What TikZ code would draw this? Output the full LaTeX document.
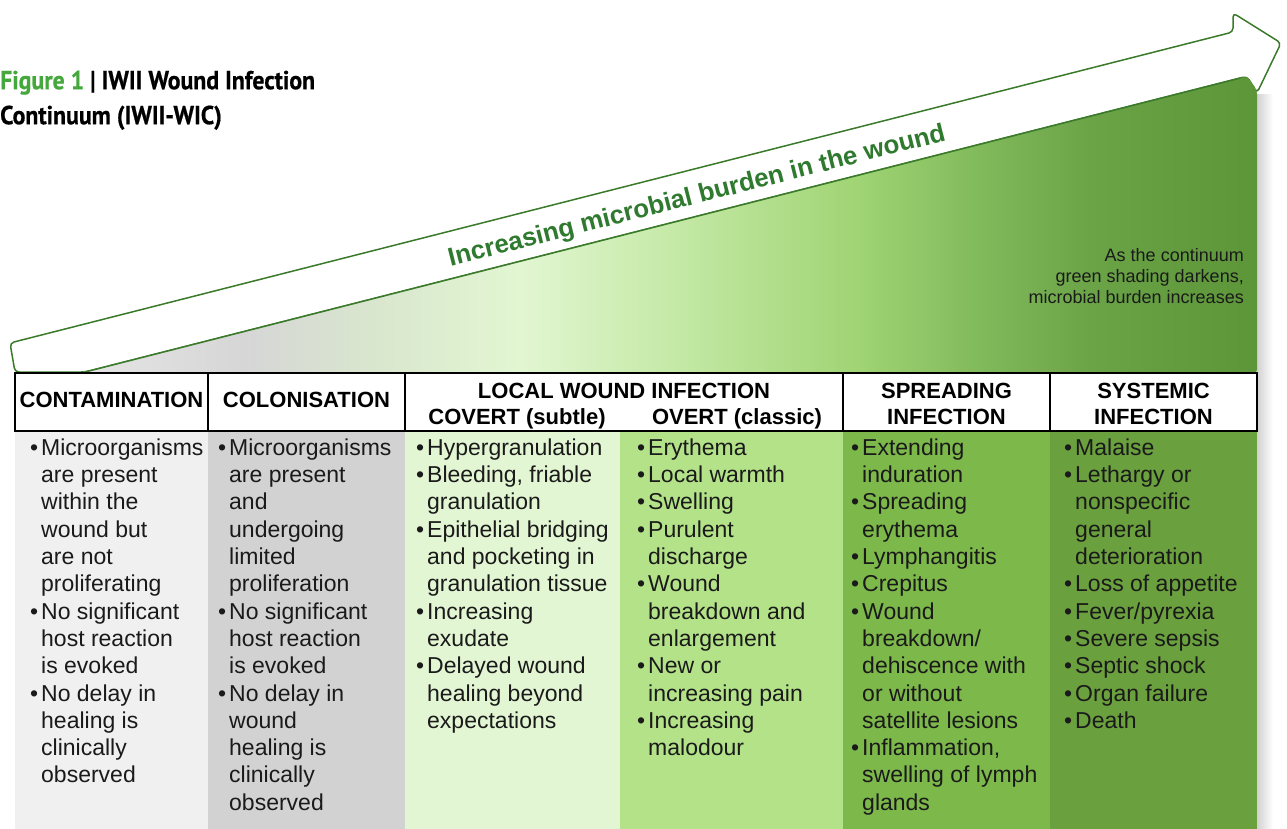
\documentclass[tikz,border=0pt]{standalone}
\usepackage{fontspec}
\setmainfont{Liberation Sans}
\newfontfamily\titlefont[FakeStretch=0.915,BoldFeatures={FakeBold=0.6}]{PT Sans}
\usetikzlibrary{shadings,calc}
\definecolor{figgreen}{HTML}{44A83C}
\definecolor{arrgreen}{HTML}{3A7A2A}
\definecolor{txtgreen}{HTML}{2F7A2F}
\definecolor{txt}{HTML}{1A1A1A}
\definecolor{cA}{HTML}{F0F0F0}
\definecolor{cB}{HTML}{D2D2D2}
\definecolor{cC}{HTML}{E3F6D3}
\definecolor{cD}{HTML}{B3E289}
\definecolor{cE}{HTML}{7DB84A}
\definecolor{cF}{HTML}{6AA03D}
\definecolor{g0}{HTML}{EBEBEB}
\definecolor{g1}{HTML}{D6D6D6}
\definecolor{g2}{HTML}{D9E6CE}
\definecolor{g3}{HTML}{E2F6D2}
\definecolor{g4}{HTML}{C6EAA8}
\definecolor{g5}{HTML}{A0D474}
\definecolor{g6}{HTML}{80B95A}
\definecolor{g7}{HTML}{6BA347}
\definecolor{g8}{HTML}{5C9638}
\pgfdeclarehorizontalshading{burden}{100bp}{color(0bp)=(g0); color(25bp)=(g0); color(34.2bp)=(g1); color(39.3bp)=(g2); color(45.3bp)=(g3); color(51.2bp)=(g4); color(58.9bp)=(g5); color(64bp)=(g6); color(68.3bp)=(g7); color(75bp)=(g8); color(100bp)=(g8)}
\newcommand{\bu}{\makebox[11pt][l]{•}}
\newcommand{\ii}{\hspace*{11pt}}
\begin{document}
\begin{tikzpicture}[x=1pt,y=-1pt,
  bodytext/.style={anchor=north west,inner sep=0pt,align=left,text=txt,
    font=\fontsize{23}{27.3}\selectfont},
  headtext/.style={anchor=base,inner sep=0pt,text=black,font=\fontsize{22}{26}\selectfont\bfseries},
  hline/.style={draw=black,line width=1.6pt}]
\useasboundingbox (0,0) rectangle (1287,829);
% title
\node[anchor=north west,inner sep=0pt,align=left,font=\titlefont\fontsize{26}{35}\selectfont\bfseries] (title) at (0,64.5)
  {\strut{\color{figgreen}Figure 1} | IWII Wound Infection\\Continuum (IWII-WIC)};
% shadow
\shade[left color=black!18,right color=white] (1257,95) rectangle (1273,829);
% body column fills
\fill[cA] (15,431) rectangle (208,829);
\fill[cB] (208,431) rectangle (405,829);
\fill[cC] (405,431) rectangle (620,829);
\fill[cD] (620,431) rectangle (843,829);
\fill[cE] (843,431) rectangle (1050,829);
\fill[cF] (1050,431) rectangle (1257,829);
% arrow
\coordinate (tailtop) at (10,343);
\coordinate (tailbot) at (15,372);
\coordinate (lowstart) at (85,372);
\coordinate (upend) at (1233,32);
\coordinate (barbup) at (1233,13);
\coordinate (tip) at (1281,43);
\coordinate (barbdn) at (1257,93);
\coordinate (lowend) at (1247,76.3);
\coordinate (lowmid) at (1240,78.1);
\filldraw[fill=white,draw=arrgreen,line width=1.5pt,rounded corners=4pt,line join=round]
  (tailbot) -- (tailtop) -- (upend) -- (barbup) -- (tip) -- (barbdn) -- (lowend) -- (lowstart) -- cycle;
\shade[shading=burden,rounded corners=4pt] (lowstart) -- (lowend) -- (1257,90) -- (1257,374) -- (15,374) -- cycle;
\draw[arrgreen,line width=1.5pt] (lowstart) -- (lowmid);
\node[rotate=14.28,inner sep=0pt,text=txtgreen,font=\fontsize{25.8}{30}\selectfont\bfseries] (arrowlabel) at (697,197) {Increasing microbial burden in the wound};
\node[anchor=north east,inner sep=0pt,align=right,text=txt,font=\fontsize{18}{21}\selectfont] (note) at (1244,247)
  {\strut As the continuum\\green shading darkens,\\microbial burden increases};
% header
\filldraw[fill=white,hline] (15,373) rectangle (1257,431);
\draw[hline] (208,373) -- (208,431);
\draw[hline] (405,373) -- (405,431);
\draw[hline] (843,373) -- (843,431);
\draw[hline] (1050,373) -- (1050,431);
\node[headtext] (h1) at (111.5,407) {CONTAMINATION};
\node[headtext] (h2) at (306.5,407) {COLONISATION};
\node[headtext] (h3) at (624,398) {LOCAL WOUND INFECTION};
\node[headtext] (h3a) at (517,424) {COVERT (subtle)};
\node[headtext] (h3b) at (737,424) {OVERT (classic)};
\node[headtext] (h4a) at (946.5,398) {SPREADING};
\node[headtext] (h4b) at (946.5,424) {INFECTION};
\node[headtext] (h5a) at (1153.5,398) {SYSTEMIC};
\node[headtext] (h5b) at (1153.5,424) {INFECTION};
% body texts
\node[bodytext] (b1) at (30,436) {\strut\bu Microorganisms\\\ii are present\\\ii within the\\\ii wound but\\\ii are not\\\ii proliferating\\\bu No significant\\\ii host reaction\\\ii is evoked\\\bu No delay in\\\ii healing is\\\ii clinically\\\ii observed};
\node[bodytext] (b2) at (218,436) {\strut\bu Microorganisms\\\ii are present\\\ii and\\\ii undergoing\\\ii limited\\\ii proliferation\\\bu No significant\\\ii host reaction\\\ii is evoked\\\bu No delay in\\\ii wound\\\ii healing is\\\ii clinically\\\ii observed};
\node[bodytext] (b3) at (416,436) {\strut\bu Hypergranulation\\\bu Bleeding, friable\\\ii granulation\\\bu Epithelial bridging\\\ii and pocketing in\\\ii granulation tissue\\\bu Increasing\\\ii exudate\\\bu Delayed wound\\\ii healing beyond\\\ii expectations};
\node[bodytext] (b4) at (637,436) {\strut\bu Erythema\\\bu Local warmth\\\bu Swelling\\\bu Purulent\\\ii discharge\\\bu Wound\\\ii breakdown and\\\ii enlargement\\\bu New or\\\ii increasing pain\\\bu Increasing\\\ii malodour};
\node[bodytext] (b5) at (851,436) {\strut\bu Extending\\\ii induration\\\bu Spreading\\\ii erythema\\\bu Lymphangitis\\\bu Crepitus\\\bu Wound\\\ii breakdown/\\\ii dehiscence with\\\ii or without\\\ii satellite lesions\\\bu Inflammation,\\\ii swelling of lymph\\\ii glands};
\node[bodytext] (b6) at (1064,436) {\strut\bu Malaise\\\bu Lethargy or\\\ii nonspecific\\\ii general\\\ii deterioration\\\bu Loss of appetite\\\bu Fever/pyrexia\\\bu Severe sepsis\\\bu Septic shock\\\bu Organ failure\\\bu Death};
\end{tikzpicture}
\end{document}
